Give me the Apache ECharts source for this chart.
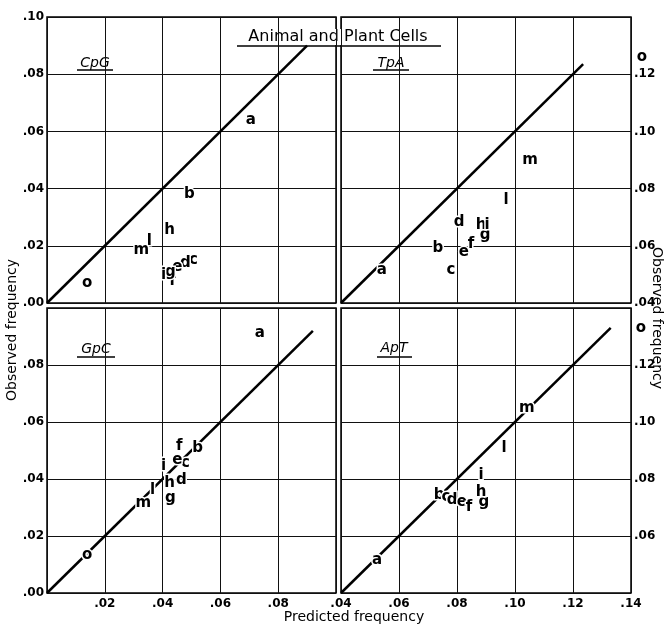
<!DOCTYPE html>
<html>
<head>
<meta charset="utf-8">
<script src="https://cdn.jsdelivr.net/npm/echarts@6/dist/echarts.min.js"></script>
<style>
  html, body { margin: 0; padding: 0; background: #fff; }
  #chart { width: 664px; height: 626px; }
</style>
</head>
<body>
<div id="chart"></div>
<script>
// letters used for the cell types in every panel
const letters = ['a', 'b', 'c', 'd', 'e', 'f', 'g', 'h', 'i', 'l', 'm', 'o']

// CpG (top left)
const cpgPredicted = [0.0705, 0.0493, 0.0507, 0.0479, 0.0451, 0.0434, 0.0427, 0.0424, 0.0403, 0.0354, 0.0326, 0.0139]
const cpgObserved = [0.064, 0.0381, 0.015, 0.014, 0.0126, 0.0077, 0.0108, 0.0255, 0.0098, 0.0217, 0.0185, 0.007]
// TpA (top right)
const tpaPredicted = [0.0541, 0.0734, 0.0779, 0.0807, 0.0824, 0.0848, 0.0897, 0.0883, 0.0904, 0.0969, 0.1052, 0.1438]
const tpaObserved = [0.0515, 0.0592, 0.0515, 0.0683, 0.0578, 0.0606, 0.0638, 0.0673, 0.0673, 0.076, 0.09, 0.126]
// GpC (bottom left)
const gpcPredicted = [0.0736, 0.0521, 0.0479, 0.0465, 0.0451, 0.0458, 0.0427, 0.0424, 0.0403, 0.0365, 0.0333, 0.0139]
const gpcObserved = [0.0913, 0.0507, 0.0455, 0.0395, 0.0465, 0.0517, 0.0332, 0.0385, 0.0444, 0.036, 0.0315, 0.0133]
// ApT (bottom right)
const aptPredicted = [0.0524, 0.0738, 0.0762, 0.0783, 0.0817, 0.0841, 0.0893, 0.0883, 0.0883, 0.0962, 0.1041, 0.1434]
const aptObserved = [0.0515, 0.0743, 0.0736, 0.0725, 0.0718, 0.0701, 0.0718, 0.0753, 0.0813, 0.091, 0.105, 0.133]

// start and end of the observed = predicted line in each panel
const cpgLine = [0, 0.09]
const tpaLine = [0.04, 0.1235]
const gpcLine = [0, 0.092]
const aptLine = [0.04, 0.133]

const panelNames = ['CpG', 'TpA', 'GpC', 'ApT']

const FONT = 'DejaVu Sans'
const fmt = v => v.toFixed(2).replace(/^0/, '')

const grids = [
  {left: 47, top: 17, width: 289, height: 286},
  {left: 341, top: 17, width: 290, height: 286},
  {left: 47, top: 308, width: 289, height: 285},
  {left: 341, top: 308, width: 290, height: 285}
].map(g => Object.assign(g, {show: true, borderColor: '#000', borderWidth: 1.5, backgroundColor: '#fff'}))

const tickFont = {formatter: fmt, fontFamily: FONT, fontSize: 12, fontWeight: 'bold', color: '#000', margin: 3}

const makeAxis = (gridIndex, min, max, extra) => Object.assign({
  type: 'value',
  gridIndex: gridIndex,
  min: min,
  max: max,
  interval: 0.02,
  axisLine: {show: false},
  axisTick: {show: false},
  splitLine: {show: true, lineStyle: {color: '#111', width: 1}},
  axisLabel: Object.assign({show: true}, tickFont)
}, extra)

const hideLabels = {axisLabel: {show: false}}
const labelStyle = (more) => ({axisLabel: Object.assign({}, tickFont, more)})

const xAxes = [
  makeAxis(0, 0, 0.1, hideLabels),
  makeAxis(1, 0.04, 0.14, hideLabels),
  makeAxis(2, 0, 0.1, labelStyle({showMinLabel: false, showMaxLabel: false, margin: 5})),
  makeAxis(3, 0.04, 0.14, labelStyle({margin: 5}))
]
const yAxes = [
  makeAxis(0, 0, 0.1, {}),
  makeAxis(1, 0.04, 0.14, Object.assign({position: 'right'}, labelStyle({showMaxLabel: false}))),
  makeAxis(2, 0, 0.1, labelStyle({showMaxLabel: false})),
  makeAxis(3, 0.04, 0.14, Object.assign({position: 'right'}, labelStyle({showMaxLabel: false, showMinLabel: false})))
]

const panels = [
  [cpgPredicted, cpgObserved, cpgLine],
  [tpaPredicted, tpaObserved, tpaLine],
  [gpcPredicted, gpcObserved, gpcLine],
  [aptPredicted, aptObserved, aptLine]
]

let series = []
panels.forEach((p, i) => {
  let [pred, obs, line] = p
  series.push({
    type: 'line',
    xAxisIndex: i,
    yAxisIndex: i,
    data: [[line[0], line[0]], [line[1], line[1]]],
    symbol: 'none',
    lineStyle: {color: '#000', width: 2.5},
    silent: true,
    z: 3
  })
  series.push({
    type: 'scatter',
    name: panelNames[i],
    xAxisIndex: i,
    yAxisIndex: i,
    clip: false,
    symbolSize: 1,
    itemStyle: {color: 'rgba(0,0,0,0)', opacity: 1},
    data: letters.map((l, k) => [pred[k], obs[k], l]),
    label: {
      show: true,
      position: 'inside',
      formatter: params => params.value[2],
      fontFamily: FONT,
      fontSize: 15,
      fontWeight: 'bold',
      color: '#000',
      opacity: 1,
      // white halo breaks the diagonal around each letter
      textBorderColor: '#fff',
      textBorderWidth: 3
    },
    z: 5
  })
})

// underlined text drawn on top of the panels
const underlined = (text, cx, cy, size, style, lineY, x0, x1) => ({
  type: 'group',
  z: 100,
  children: [
    {
      type: 'text',
      x: cx,
      y: cy,
      style: {
        text: text,
        fontFamily: FONT,
        fontSize: size,
        fontStyle: style,
        fill: '#000',
        align: 'center',
        verticalAlign: 'middle',
        backgroundColor: '#fff'
      }
    },
    {
      type: 'line',
      shape: {x1: x0, y1: lineY, x2: x1, y2: lineY},
      style: {stroke: '#000', lineWidth: 1.5}
    }
  ]
})

let option = {
  animation: false,
  backgroundColor: '#fff',
  grid: grids,
  xAxis: xAxes,
  yAxis: yAxes,
  series: series,
  graphic: [
    underlined('Animal and Plant Cells', 338, 37, 16, 'normal', 46, 237, 441),
    underlined(panelNames[0], 95, 63, 14, 'italic', 70, 77, 113),
    underlined(panelNames[1], 391, 63, 14, 'italic', 70, 373, 409),
    underlined(panelNames[2], 96, 349, 14, 'italic', 357, 77, 115),
    underlined(panelNames[3], 394, 348, 14, 'italic', 357, 377, 412),
    {
      type: 'text', z: 100, x: 12, y: 330, rotation: Math.PI / 2,
      style: {text: 'Observed frequency', fontFamily: FONT, fontSize: 14, fill: '#000', align: 'center', verticalAlign: 'middle'}
    },
    {
      type: 'text', z: 100, x: 657, y: 318, rotation: -Math.PI / 2,
      style: {text: 'Observed frequency', fontFamily: FONT, fontSize: 14, fill: '#000', align: 'center', verticalAlign: 'middle'}
    },
    {
      type: 'text', z: 100, x: 354, y: 617,
      style: {text: 'Predicted frequency', fontFamily: FONT, fontSize: 14, fill: '#000', align: 'center', verticalAlign: 'middle'}
    }
  ]
}

let chart = echarts.init(document.getElementById('chart'))
option && chart.setOption(option)
</script>
</body>
</html>
